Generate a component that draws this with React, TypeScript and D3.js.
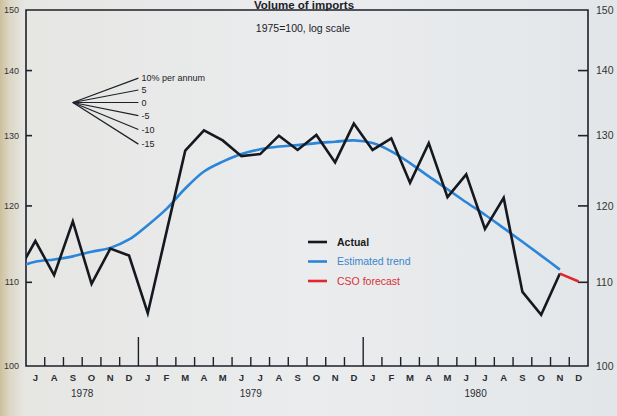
import React from 'react';
import * as d3 from 'd3';

// ---------- data ----------
const monthLabels = ['J','A','S','O','N','D','J','F','M','A','M','J','J','A','S','O','N','D','J','F','M','A','M','J','J','A','S','O','N','D'];
const yearLabels = ['1978', '1979', '1980'];
const yearStartMonth = [0, 6, 18];
const yearEndMonth = [6, 18, 30];

// Actual volume of imports, Jun 1978 .. Nov 1980 (1975=100)
const actualValues = [111, 115.3, 110.9, 117.9, 109.8, 114.3, 113.4, 106.2, 116.5, 127.8, 130.8, 129.3, 127.0, 127.3, 130.0, 127.9, 130.1, 126.1, 131.8, 127.9, 129.6, 123.2, 128.9, 121.2, 124.4, 116.9, 121.1, 108.8, 106.0, 111.1];
// Estimated trend, Jun 1978 .. Nov 1980
const trendValues = [111.9, 112.6, 112.9, 113.3, 113.9, 114.4, 115.5, 117.4, 119.6, 122.4, 124.8, 126.2, 127.3, 128.0, 128.4, 128.6, 128.9, 129.1, 129.3, 128.9, 127.7, 126.0, 124.1, 122.3, 120.5, 118.8, 117.0, 115.2, 113.4, 111.6];
// CSO forecast, Nov 1980 .. Dec 1980
const forecastValues = [111.1, 110.1];

const yTicks = [100, 110, 120, 130, 140, 150];
const fanRates = [10, 5, 0, -5, -10, -15];
const fanLabels = ['10% per annum', '5', '0', '-5', '-10', '-15'];

// ---------- layout ----------
const W = 617, H = 416;
const X0 = 26, X1 = 588, YTOP = 10, YBOT = 366;
const FONT = "'Liberation Sans', Arial, sans-serif";

const x = d3.scaleLinear().domain([0, 30]).range([X0, X1]);
const y = d3.scaleLog().domain([100, 150]).range([YBOT, YTOP]);

const lineFrom = (start: number, curve: any) =>
  d3.line<number>().x((_, i) => x(start + i + 0.5)).y(d => y(d)).curve(curve);

export default function App() {
  const actualPath = lineFrom(-1, d3.curveLinear)(actualValues) || '';
  const trendPath = lineFrom(-1, d3.curveCatmullRom.alpha(0.5))(trendValues) || '';
  const forecastPath = lineFrom(28, d3.curveLinear)(forecastValues) || '';

  const fanT0 = 2.5, fanV0 = 135, fanLen = 3.5;
  const ink = '#1d2128';

  return (
    <div style={{ position: 'absolute', left: 0, top: 0 }}>
      <svg width={W} height={H} style={{ display: 'block' }}>
        <defs>
          <linearGradient id="bg" x1="0" x2="1" y1="0" y2="0">
            <stop offset="0" stopColor="#cdbf9c" />
            <stop offset="0.015" stopColor="#dcd6c4" />
            <stop offset="0.04" stopColor="#e6e6e3" />
            <stop offset="0.5" stopColor="#eaecee" />
            <stop offset="1" stopColor="#e3e6e8" />
          </linearGradient>
          <clipPath id="plot">
            <rect x={X0} y={YTOP} width={X1 - X0} height={YBOT - YTOP} />
          </clipPath>
        </defs>
        <rect x={0} y={0} width={W} height={H} fill="url(#bg)" />

        {/* title */}
        <text x={304} y={8.5} textAnchor="middle" fontFamily={FONT} fontWeight="bold" fontSize={11.5} fill={ink}>Volume of imports</text>
        <text x={303} y={32} textAnchor="middle" fontFamily={FONT} fontSize={10.5} fill={ink}>1975=100, log scale</text>

        {/* frame */}
        <path d={`M${X0},${y(100)}V${y(150)}H${X1}V${y(100)}Z`} fill="none" stroke={ink} strokeWidth={1.6} />

        {/* y ticks + labels */}
        {yTicks.map(v => (
          <g key={v}>
            {v > 100 && v < 150 && (
              <>
                <line x1={X0} x2={X0 + 6} y1={y(v)} y2={y(v)} stroke={ink} strokeWidth={1.6} />
                <line x1={X1 - 10} x2={X1} y1={y(v)} y2={y(v)} stroke={ink} strokeWidth={1.6} />
              </>
            )}
            <text x={19} y={y(v)} dy="0.35em" textAnchor="end" fontFamily={FONT} fontSize={9} fill="#333">{v}</text>
            <text x={596} y={y(v)} dy="0.35em" textAnchor="start" fontFamily={FONT} fontSize={10.5} fill="#333">{v}</text>
          </g>
        ))}

        {/* x ticks */}
        {d3.range(1, 30).map(m => {
          const big = yearStartMonth.includes(m);
          return <line key={m} x1={x(m)} x2={x(m)} y1={YBOT} y2={YBOT - (big ? 29 : 9)} stroke={ink} strokeWidth={1.4} />;
        })}
        {monthLabels.map((l, i) => (
          <text key={i} x={x(i + 0.5)} y={YBOT + 15} textAnchor="middle" fontFamily={FONT} fontWeight="bold" fontSize={9.5} fill="#2a2d33">{l}</text>
        ))}
        {yearLabels.map((l, i) => (
          <text key={l} x={x((yearStartMonth[i] + yearEndMonth[i]) / 2)} y={YBOT + 31} textAnchor="middle" fontFamily={FONT} fontSize={10} fill="#2a2d33">{l}</text>
        ))}

        {/* growth-rate fan */}
        {fanRates.map((r, i) => {
          const x2 = x(fanT0 + fanLen);
          const y2 = y(fanV0 * Math.pow(1 + r / 100, fanLen / 12));
          return (
            <g key={r}>
              <line x1={x(fanT0)} y1={y(fanV0)} x2={x2} y2={y2} stroke={ink} strokeWidth={1.2} />
              <text x={x2 + 3} y={y2} dy="0.35em" fontFamily={FONT} fontSize={9} fill={ink}>{fanLabels[i]}</text>
            </g>
          );
        })}

        {/* series */}
        <g clipPath="url(#plot)">
          <path d={trendPath} fill="none" stroke="#2b86d9" strokeWidth={2.6} />
          <path d={actualPath} fill="none" stroke="#15191f" strokeWidth={2.6} strokeLinejoin="miter" />
          <path d={forecastPath} fill="none" stroke="#e0262e" strokeWidth={2.6} />
        </g>

        {/* legend */}
        {[
          { label: 'Actual', color: '#15191f', text: '#1a1a1a', bold: true },
          { label: 'Estimated trend', color: '#2b86d9', text: '#3a86cc', bold: false },
          { label: 'CSO forecast', color: '#e0262e', text: '#d9303a', bold: false },
        ].map((d, i) => (
          <g key={d.label} transform={`translate(308,${242 + i * 19.5})`}>
            <line x1={0} x2={19} y1={0} y2={0} stroke={d.color} strokeWidth={2.6} />
            <text x={29} y={0} dy="0.35em" fontFamily={FONT} fontSize={10.5} fontWeight={d.bold ? 'bold' : 'normal'} fill={d.text}>{d.label}</text>
          </g>
        ))}
      </svg>
    </div>
  );
}
